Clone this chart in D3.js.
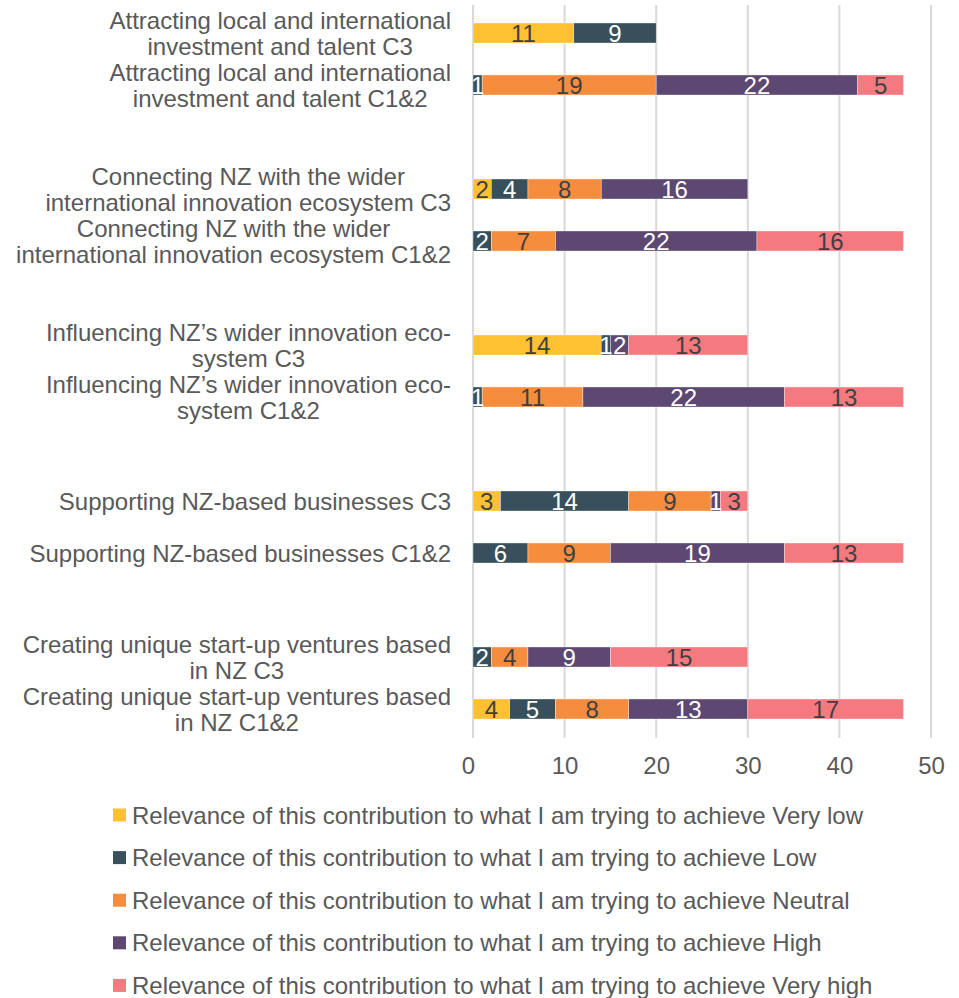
<!DOCTYPE html>
<html>
<head>
<meta charset="utf-8">
<script src="https://cdn.jsdelivr.net/npm/d3@7"></script>
<style>
  html, body { margin: 0; padding: 0; background: #fff; }
  svg { display: block; font-family: "Liberation Sans", Arial, sans-serif; }
</style>
</head>
<body>
<svg id="chart" width="959" height="998"></svg>
<script>
// Categories, top to bottom; each entry lists its label lines
const categories = [
  ["Attracting local and international", "investment and talent C3"],
  ["Attracting local and international", "investment and talent C1&2"],
  ["Connecting NZ with the wider", "international innovation ecosystem C3"],
  ["Connecting NZ with the wider", "international innovation ecosystem C1&2"],
  ["Influencing NZ\u2019s wider innovation eco-", "system C3"],
  ["Influencing NZ\u2019s wider innovation eco-", "system C1&2"],
  ["Supporting NZ-based businesses C3"],
  ["Supporting NZ-based businesses C1&2"],
  ["Creating unique start-up ventures based", "in NZ C3"],
  ["Creating unique start-up ventures based", "in NZ C1&2"]
];

const seriesNames = [
  "Relevance of this contribution to what I am trying to achieve Very low",
  "Relevance of this contribution to what I am trying to achieve Low",
  "Relevance of this contribution to what I am trying to achieve Neutral",
  "Relevance of this contribution to what I am trying to achieve High",
  "Relevance of this contribution to what I am trying to achieve Very high"
];

const veryLow  = [11, 0, 2, 0, 14, 0, 3, 0, 0, 4];
const low      = [9, 1, 4, 2, 1, 1, 14, 6, 2, 5];
const neutral  = [0, 19, 8, 7, 0, 11, 9, 9, 4, 8];
const high     = [0, 22, 16, 22, 2, 22, 1, 19, 9, 13];
const veryHigh = [0, 5, 0, 16, 13, 13, 3, 13, 15, 17];

const xTicks = [0, 10, 20, 30, 40, 50];

const colors = ["#FFC132", "#38505B", "#F68D3E", "#5C4870", "#F47A80"];
const labelColors = ["#404040", "#ffffff", "#404040", "#ffffff", "#404040"];
const textColor = "#595959";
const fontSize = 24;

const seriesValues = [veryLow, low, neutral, high, veryHigh];
const table = categories.map((c, i) => {
  const row = { idx: i };
  seriesNames.forEach((s, k) => { row[s] = seriesValues[k][i]; });
  return row;
});

const stacked = d3.stack().keys(seriesNames)(table);

// Pairs of categories are separated by an empty slot
const slotOf = i => i + Math.floor(i / 2);
const nSlots = slotOf(categories.length - 1) + 1;

const svg = d3.select("#chart");

const x = d3.scaleLinear().domain([0, 50]).range([473, 931]);
const y = d3.scaleBand()
  .domain(d3.range(nSlots))
  .range([7, 735])
  .paddingInner(0.615)
  .paddingOuter(0.3075);

// vertical gridlines
svg.append("g")
  .selectAll("line")
  .data(xTicks)
  .join("line")
  .attr("x1", d => x(d)).attr("x2", d => x(d))
  .attr("y1", 5).attr("y2", 738)
  .attr("stroke", "#d9d9d9")
  .attr("stroke-width", 2);

// x axis tick labels
const xAxis = d3.axisBottom(x).tickValues(xTicks).tickSize(0).tickPadding(0);
const gx = svg.append("g").attr("transform", "translate(0,765)").call(xAxis);
gx.select(".domain").remove();
gx.selectAll("text")
  .attr("font-size", fontSize)
  .attr("fill", textColor)
  .attr("font-family", "Liberation Sans, Arial, sans-serif")
  .attr("dy", "0.36em")
  .attr("dx", (d, i) => i === 0 ? -5 : 0);

// stacked bars
const layers = svg.append("g")
  .selectAll("g")
  .data(stacked)
  .join("g")
  .attr("fill", (d, k) => colors[k]);

layers.selectAll("rect")
  .data(d => d.filter(p => p[1] - p[0] > 0))
  .join("rect")
  .attr("x", p => x(p[0]))
  .attr("width", p => x(p[1]) - x(p[0]))
  .attr("y", p => y(slotOf(p.data.idx)))
  .attr("height", y.bandwidth())
  .attr("stroke", "#ffffff")
  .attr("stroke-opacity", 0.6)
  .attr("stroke-width", 0.6);

// value labels
stacked.forEach((layer, k) => {
  svg.append("g")
    .selectAll("text")
    .data(layer.filter(p => p[1] - p[0] > 0))
    .join("text")
    .attr("x", p => (x(p[0]) + x(p[1])) / 2)
    .attr("y", p => y(slotOf(p.data.idx)) + y.bandwidth() / 2)
    .attr("dy", "0.36em")
    .attr("text-anchor", "middle")
    .attr("font-size", fontSize)
    .attr("fill", labelColors[k])
    .text(p => p[1] - p[0]);
});

// category labels: lines centred on each other, block right-aligned
const catG = svg.append("g");
categories.forEach((lines, i) => {
  const cy = y(slotOf(i)) + y.bandwidth() / 2;
  const t = catG.append("text")
    .attr("text-anchor", "middle")
    .attr("font-size", fontSize)
    .attr("fill", textColor);
  lines.forEach((ln, j) => {
    t.append("tspan")
      .attr("x", 0)
      .attr("y", cy + (j - (lines.length - 1) / 2) * 26)
      .attr("dy", "0.36em")
      .text(ln);
  });
  const w = d3.max(t.selectAll("tspan").nodes(), n => n.getComputedTextLength());
  t.attr("transform", `translate(${451 - w / 2},0)`);
});

// legend
const legend = svg.append("g")
  .selectAll("g")
  .data(seriesNames)
  .join("g")
  .attr("transform", (d, k) => `translate(113,${815 + k * 42.6})`);

legend.append("rect")
  .attr("x", 0).attr("y", -6.5)
  .attr("width", 13).attr("height", 13)
  .attr("fill", (d, k) => colors[k]);

legend.append("text")
  .attr("x", 19)
  .attr("dy", "0.36em")
  .attr("font-size", fontSize)
  .attr("fill", textColor)
  .text(d => d);
</script>
</body>
</html>
